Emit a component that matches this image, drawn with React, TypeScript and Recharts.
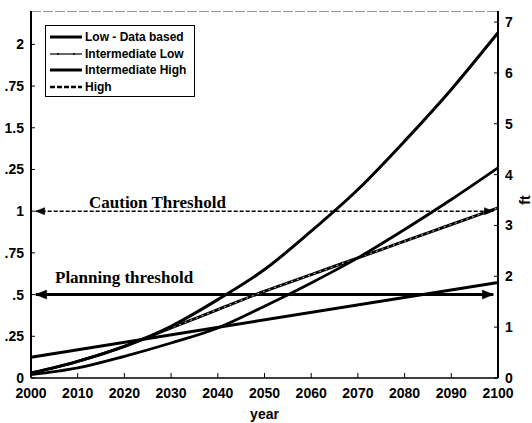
import React from 'react';
import {
  LineChart,
  Line,
  XAxis,
  YAxis,
  ReferenceLine,
} from 'recharts';

// Sea level rise scenarios (m)
const years = [2000, 2010, 2020, 2030, 2040, 2050, 2060, 2070, 2080, 2090, 2100];
const highValues = [0.03, 0.1, 0.19, 0.31, 0.47, 0.65, 0.88, 1.13, 1.42, 1.73, 2.07];
const intHighValues = [0.02, 0.06, 0.13, 0.21, 0.3, 0.43, 0.57, 0.72, 0.89, 1.07, 1.26];
const intLowValues = [0.03, 0.1, 0.19, 0.3, 0.41, 0.52, 0.62, 0.72, 0.82, 0.92, 1.02];
// straight line: only the end points
const lowYears = [2000, 2100];
const lowValues = [0.125, 0.572];

// thresholds drawn as double arrows
const arrowYears = [2001, 2099];
const cautionLevel = 1;
const planningLevel = 0.5;

const leftTicks = [0, 0.25, 0.5, 0.75, 1, 1.25, 1.5, 1.75, 2];
const leftTickLabels = ['0', '.25', '.5', '.75', '1', '.25', '1.5', '.75', '2'];
const rightTicks = [0, 1, 2, 3, 4, 5, 6, 7];
const xTicks = [2000, 2010, 2020, 2030, 2040, 2050, 2060, 2070, 2080, 2090, 2100];
const leftMax = 2.2;
const rightMax = 7.218; // 2.2 m in ft

const legendItems = ['Low - Data based', 'Intermediate Low', 'Intermediate High', 'High'];

const toSeries = (xs: number[], vs: number[]) => xs.map((year, i) => ({ year, v: vs[i] }));

const highData = toSeries(years, highValues);
const intHighData = toSeries(years, intHighValues);
const intLowData = toSeries(years, intLowValues);
const lowData = toSeries(lowYears, lowValues);
const cautionData = arrowYears.map((year) => ({ year, v: cautionLevel }));
const planningData = arrowYears.map((year) => ({ year, v: planningLevel }));
const frameData = [2000, 2100].map((year) => ({ year, v: leftMax }));

const font = 'Liberation Sans, Arial, sans-serif';
const serif = 'Liberation Serif, Times New Roman, serif';

const XTick = (props: any) => {
  const { x, y, payload } = props;
  return (
    <g>
      <line x1={x} y1={y} x2={x} y2={y - 5} stroke="#000" strokeWidth={1} />
      <text x={x} y={y + 20} textAnchor="middle" fontFamily={font} fontWeight="bold" fontSize={14} fill="#000">
        {payload.value}
      </text>
    </g>
  );
};

const LeftTick = (props: any) => {
  const { x, y, payload } = props;
  const idx = leftTicks.indexOf(payload.value);
  return (
    <g>
      <line x1={x} y1={y} x2={x + 4} y2={y} stroke="#000" strokeWidth={1} />
      <text x={x - 7} y={y + 5} textAnchor="end" fontFamily={font} fontWeight="bold" fontSize={14} fill="#000">
        {idx >= 0 ? leftTickLabels[idx] : ''}
      </text>
    </g>
  );
};

const RightTick = (props: any) => {
  const { x, y, payload } = props;
  return (
    <g>
      <line x1={x} y1={y} x2={x - 4} y2={y} stroke="#000" strokeWidth={1} />
      <text x={x + 7} y={y + 5} textAnchor="start" fontFamily={font} fontWeight="bold" fontSize={14} fill="#000">
        {payload.value}
      </text>
    </g>
  );
};

const arrowDot = (len: number, half: number) => (props: any) => {
  const { cx, cy, index } = props;
  const dir = index === 0 ? 1 : -1;
  const d = `M${cx},${cy} L${cx + dir * len},${cy - half} L${cx + dir * len},${cy + half} Z`;
  return <path key={`arrow-${index}`} d={d} fill="#000" stroke="#000" strokeWidth={0.5} />;
};

const ThresholdLabel = (props: any) => {
  const { viewBox, text, dx, dy } = props;
  if (!viewBox) return null;
  return (
    <text x={viewBox.x + dx} y={viewBox.y + dy} fontFamily={serif} fontWeight="bold" fontSize={17} fill="#000">
      {text}
    </text>
  );
};

const LegendSample = ({ kind }: { kind: number }) => {
  if (kind === 1) {
    return (
      <svg width={32} height={8}>
        <line x1={0} y1={4} x2={32} y2={4} stroke="#000" strokeWidth={1.2} />
        <circle cx={8} cy={4} r={1} fill="#000" />
        <circle cx={24} cy={4} r={1} fill="#000" />
      </svg>
    );
  }
  if (kind === 3) {
    return (
      <svg width={32} height={8}>
        <line x1={0} y1={4} x2={32} y2={4} stroke="#000" strokeWidth={2.5} strokeDasharray="5 2" />
      </svg>
    );
  }
  return (
    <svg width={32} height={8}>
      <line x1={0} y1={4} x2={32} y2={4} stroke="#000" strokeWidth={3} />
    </svg>
  );
};

export default function App() {
  return (
    <div style={{ position: 'relative', width: 532, height: 423, background: '#fff' }}>
      <style>{'html, body { margin: 0; padding: 0; overflow: hidden; } .recharts-surface { outline: none; }'}</style>
      <LineChart
        width={532}
        height={423}
        margin={{ top: 11, right: 33, left: 30, bottom: 0 }}
      >
        <XAxis
          dataKey="year"
          type="number"
          domain={[2000, 2100]}
          ticks={xTicks}
          height={45}
          tickSize={0}
          tickMargin={0}
          tickLine={false}
          tick={<XTick />}
          axisLine={{ stroke: '#000', strokeWidth: 1.5 }}
          label={{
            value: 'year',
            position: 'insideBottom',
            offset: 4,
            style: { fontFamily: font, fontWeight: 'bold', fontSize: 14, fill: '#000' },
          }}
        />
        <YAxis
          type="number"
          domain={[0, leftMax]}
          ticks={leftTicks}
          width={1}
          tickSize={0}
          tickMargin={0}
          tickLine={false}
          tick={<LeftTick />}
          axisLine={{ stroke: '#000', strokeWidth: 2 }}
          allowDataOverflow
        />
        <YAxis
          yAxisId="right"
          orientation="right"
          type="number"
          domain={[0, rightMax]}
          ticks={rightTicks}
          width={1}
          tickSize={0}
          tickMargin={0}
          tickLine={false}
          tick={<RightTick />}
          axisLine={{ stroke: '#000', strokeWidth: 2 }}
          allowDataOverflow
        />

        <ReferenceLine
          y={cautionLevel}
          stroke="none"
          label={<ThresholdLabel text="Caution Threshold" dx={58} dy={-3} />}
        />
        <ReferenceLine
          y={planningLevel}
          stroke="none"
          label={<ThresholdLabel text="Planning threshold" dx={24} dy={-12} />}
        />

        {/* top frame */}
        <Line
          data={frameData}
          dataKey="v"
          stroke="#333"
          strokeWidth={1.2}
          strokeDasharray="10 2"
          dot={false}
          isAnimationActive={false}
        />

        <Line
          data={cautionData}
          dataKey="v"
          stroke="#000"
          strokeWidth={1.5}
          strokeDasharray="4 2"
          dot={arrowDot(9, 3.5)}
          isAnimationActive={false}
        />
        <Line
          data={planningData}
          dataKey="v"
          stroke="#000"
          strokeWidth={3}
          dot={arrowDot(11, 4.5)}
          isAnimationActive={false}
        />

        <Line data={lowData} dataKey="v" stroke="#000" strokeWidth={3} dot={false} isAnimationActive={false} />
        <Line data={intLowData} dataKey="v" stroke="#000" strokeWidth={3} dot={false} type="monotone" isAnimationActive={false} />
        <Line
          data={intLowData}
          dataKey="v"
          stroke="#fff"
          strokeWidth={0.8}
          strokeDasharray="2 4"
          dot={false}
          type="monotone"
          isAnimationActive={false}
        />
        <Line data={intHighData} dataKey="v" stroke="#000" strokeWidth={2.8} dot={false} type="monotone" isAnimationActive={false} />
        <Line data={highData} dataKey="v" stroke="#000" strokeWidth={3} dot={false} type="monotone" isAnimationActive={false} />
      </LineChart>

      {/* right axis unit */}
      <div
        style={{
          position: 'absolute',
          left: 518,
          top: 190,
          width: 14,
          height: 20,
          display: 'flex',
          alignItems: 'center',
          justifyContent: 'center',
          fontFamily: font,
          fontWeight: 'bold',
          fontSize: 14,
          transform: 'rotate(-90deg)',
        }}
      >
        ft
      </div>

      {/* legend box */}
      <div
        style={{
          position: 'absolute',
          left: 45,
          top: 25,
          width: 150,
          height: 72,
          border: '1px solid #000',
          background: '#fff',
          boxSizing: 'border-box',
          paddingTop: 3,
        }}
      >
        {legendItems.map((name, i) => (
          <div key={name} style={{ display: 'flex', alignItems: 'center', height: 16.5, paddingLeft: 4 }}>
            <LegendSample kind={i} />
            <span style={{ fontFamily: font, fontWeight: 'bold', fontSize: 12, marginLeft: 3, color: '#000' }}>
              {name}
            </span>
          </div>
        ))}
      </div>
    </div>
  );
}
